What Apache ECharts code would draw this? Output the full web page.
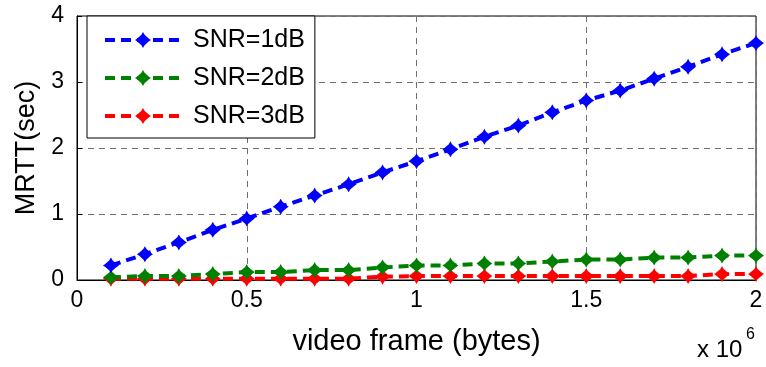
<!DOCTYPE html>
<html>
<head>
<meta charset="utf-8">
<script src="https://cdn.jsdelivr.net/npm/echarts@6/dist/echarts.min.js"></script>
<style>html,body{margin:0;padding:0;background:#fff}#c{width:766px;height:367px}</style>
</head>
<body>
<div id="c"></div>
<script>
const xValues = [0.1,0.2,0.3,0.4,0.5,0.6,0.7,0.8,0.9,1.0,1.1,1.2,1.3,1.4,1.5,1.6,1.7,1.8,1.9,2.0];
const snr1 = [0.22,0.39,0.57,0.76,0.93,1.11,1.28,1.45,1.63,1.80,1.98,2.17,2.34,2.54,2.72,2.87,3.05,3.23,3.42,3.59];
const snr2 = [0.04,0.06,0.06,0.09,0.12,0.12,0.15,0.15,0.19,0.22,0.22,0.25,0.25,0.28,0.31,0.31,0.34,0.34,0.37,0.37];
const snr3 = [0.02,0.02,0.02,0.02,0.02,0.02,0.02,0.02,0.05,0.06,0.06,0.06,0.06,0.06,0.06,0.06,0.06,0.06,0.09,0.09];
const seriesNames = ['SNR=1dB','SNR=2dB','SNR=3dB'];
const seriesColors = ['#0000ff','#008000','#ff0000'];
const xTicks = [0,0.5,1,1.5,2];
const yTicks = [0,1,2,3,4];

const font = 'Liberation Sans, Arial, sans-serif';
const marker = 'path://M0,-7 L1.4,-4.5 L5,-1.4 L7,0 L5,1.4 L1.4,4.5 L0,7 L-1.4,4.5 L-5,1.4 L-7,0 L-5,-1.4 L-1.4,-4.5 Z';
const all = [snr1, snr2, snr3];

const chart = echarts.init(document.getElementById('c'), null, {renderer:'canvas'});
chart.setOption({
  animation:false,
  grid:{left:77,right:10,top:16,bottom:87,show:true,borderColor:'#000',borderWidth:1,backgroundColor:'transparent'},
  legend:{
    orient:'vertical', left:87, top:16,
    backgroundColor:'#fff', borderColor:'#000', borderWidth:1,
    padding:[11,10,9,16], itemGap:12, itemWidth:76, itemHeight:20,
    lineStyle:{width:4,type:[10,6]},
    itemStyle:{borderWidth:0},
    textStyle:{fontFamily:font,fontSize:25,color:'#000',padding:[0,0,0,7],lineHeight:26},
    data:seriesNames
  },
  xAxis:{
    type:'value', min:0, max:2, interval:0.5,
    axisLine:{show:true,lineStyle:{color:'#000',width:1}},
    axisTick:{show:true,inside:true,length:5,lineStyle:{color:'#000'}},
    axisLabel:{fontFamily:font,fontSize:23,color:'#000',margin:9,
      formatter:v=>xTicks.includes(v)?String(v):''},
    splitLine:{show:true,lineStyle:{color:'#707070',type:[6,5],width:1}},
    name:'video frame (bytes)', nameLocation:'middle', nameGap:47,
    nameTextStyle:{fontFamily:font,fontSize:29,color:'#000'}
  },
  yAxis:{
    type:'value', min:0, max:4, interval:1,
    axisLine:{show:true,lineStyle:{color:'#000',width:1}},
    axisTick:{show:true,inside:true,length:5,lineStyle:{color:'#000'}},
    axisLabel:{fontFamily:font,fontSize:23,color:'#000',margin:13,
      formatter:v=>yTicks.includes(v)?String(v):''},
    splitLine:{show:true,lineStyle:{color:'#707070',type:[6,5],width:1}},
    name:'MRTT(sec)', nameLocation:'middle', nameGap:35,
    nameTextStyle:{fontFamily:font,fontSize:27,color:'#000'}
  },
  graphic:[
    {type:'text', left:697, top:338, style:{text:'x 10', fontFamily:font, fontSize:24, fill:'#000'}},
    {type:'text', left:746, top:327, style:{text:'6', fontFamily:font, fontSize:16, fill:'#000'}}
  ],
  series: seriesNames.map((n,i)=>({
    name:n, type:'line',
    data: xValues.map((x,j)=>[x, all[i][j]]),
    symbol:marker, symbolSize:16, showSymbol:true,
    lineStyle:{color:seriesColors[i],width:4,type:[10,6]},
    itemStyle:{color:seriesColors[i]},
    z: 10-i
  }))
});
</script>
</body>
</html>
